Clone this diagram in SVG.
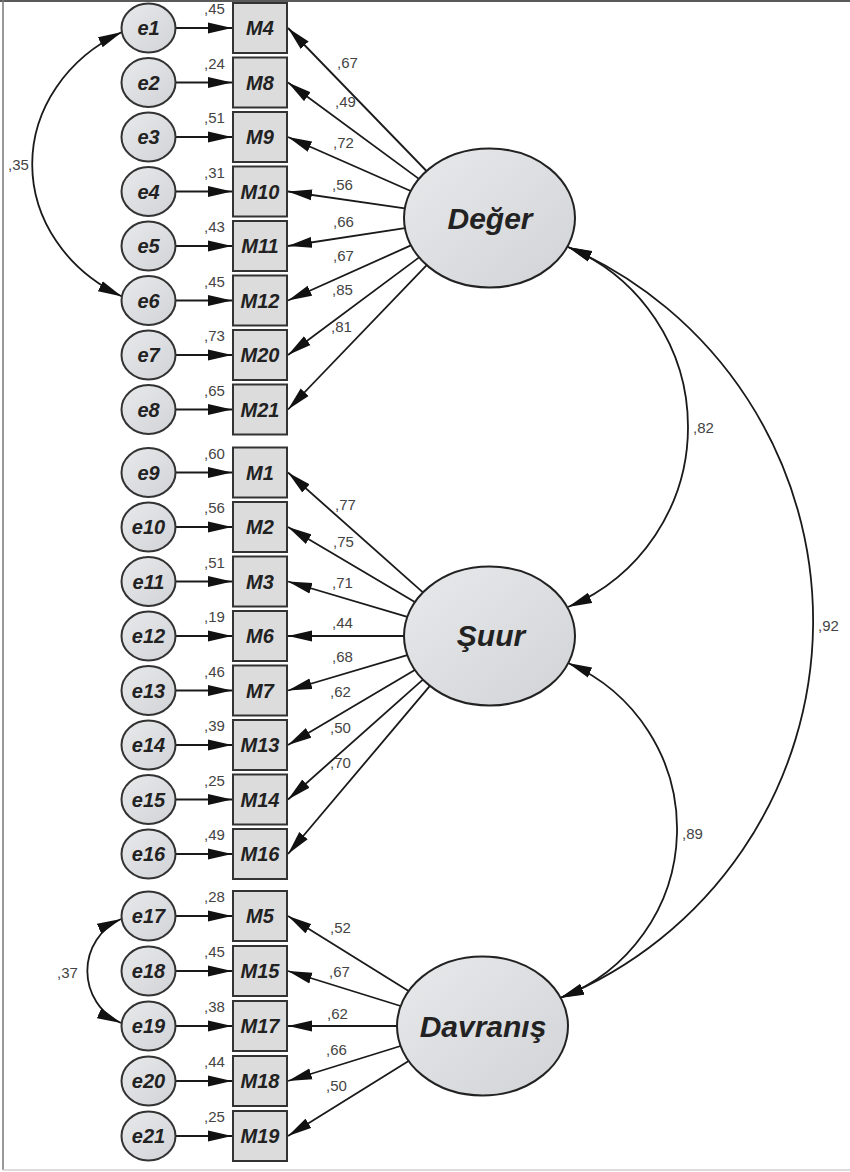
<svg xmlns="http://www.w3.org/2000/svg" width="850" height="1172" viewBox="0 0 850 1172">
<defs>
<linearGradient id="gf" x1="0" y1="0" x2="1" y2="1">
<stop offset="0" stop-color="#e8e9eb"/>
<stop offset="1" stop-color="#d2d3d6"/>
</linearGradient>
<marker id="ah" viewBox="0 0 24 12" refX="24" refY="6" markerWidth="24" markerHeight="12" markerUnits="userSpaceOnUse" orient="auto-start-reverse">
<path d="M0,0.5 L24,6 L0,11.5 z" fill="#111"/>
</marker>
<style>
.ln{stroke:#1a1a1a;stroke-width:1.8;fill:none}
.ar{marker-end:url(#ah)}
.cv{marker-start:url(#ah);marker-end:url(#ah)}
.err{fill:url(#gf);stroke:#333;stroke-width:2}
.box{fill:#dcdcdc;stroke:#333;stroke-width:2}
.lat{fill:url(#gf);stroke:#222;stroke-width:2}
.nt{font-family:"Liberation Sans",Arial,sans-serif;font-weight:bold;font-style:italic;font-size:20px;fill:#222;text-anchor:middle}
.lt{font-family:"Liberation Sans",Arial,sans-serif;font-weight:bold;font-style:italic;font-size:30px;fill:#222;text-anchor:middle}
.num{font-family:"Liberation Sans",Arial,sans-serif;font-size:15px;fill:#444}
</style>
</defs>
<rect x="0" y="0" width="850" height="1172" fill="#ffffff"/>
<line x1="0" y1="1" x2="850" y2="1" stroke="#5a5a5a" stroke-width="2"/>
<line x1="3" y1="0" x2="3" y2="1170" stroke="#777" stroke-width="1.5"/>
<line x1="3" y1="1170" x2="850" y2="1170" stroke="#d0d0d0" stroke-width="1.5"/>

<g id="connectors">
<!-- error to indicator -->
<g class="ln ar">
<line x1="175.5" y1="28" x2="232" y2="28"/>
<line x1="175.5" y1="82.5" x2="232" y2="82.5"/>
<line x1="175.5" y1="137" x2="232" y2="137"/>
<line x1="175.5" y1="191.5" x2="232" y2="191.5"/>
<line x1="175.5" y1="246" x2="232" y2="246"/>
<line x1="175.5" y1="300.5" x2="232" y2="300.5"/>
<line x1="175.5" y1="355" x2="232" y2="355"/>
<line x1="175.5" y1="409.5" x2="232" y2="409.5"/>
<line x1="175.5" y1="472.5" x2="232" y2="472.5"/>
<line x1="175.5" y1="527" x2="232" y2="527"/>
<line x1="175.5" y1="581.5" x2="232" y2="581.5"/>
<line x1="175.5" y1="636" x2="232" y2="636"/>
<line x1="175.5" y1="690.5" x2="232" y2="690.5"/>
<line x1="175.5" y1="745" x2="232" y2="745"/>
<line x1="175.5" y1="799.5" x2="232" y2="799.5"/>
<line x1="175.5" y1="854" x2="232" y2="854"/>
<line x1="175.5" y1="916" x2="232" y2="916"/>
<line x1="175.5" y1="971" x2="232" y2="971"/>
<line x1="175.5" y1="1026" x2="232" y2="1026"/>
<line x1="175.5" y1="1081" x2="232" y2="1081"/>
<line x1="175.5" y1="1136" x2="232" y2="1136"/>
</g>
<!-- Değer loadings -->
<g class="ln ar">
<line x1="426.5" y1="171" x2="288" y2="28"/>
<line x1="418.9" y1="178.9" x2="288" y2="82.5"/>
<line x1="410.7" y1="191" x2="288" y2="137"/>
<line x1="404.8" y1="208.3" x2="288" y2="191.5"/>
<line x1="404.9" y1="228.2" x2="288" y2="246"/>
<line x1="410.9" y1="245.4" x2="288" y2="300.5"/>
<line x1="419.1" y1="257.4" x2="288" y2="355"/>
<line x1="426.7" y1="265.2" x2="288" y2="409.5"/>
</g>
<!-- Şuur loadings -->
<g class="ln ar">
<line x1="422.9" y1="592.4" x2="288" y2="472.5"/>
<line x1="414.8" y1="602.1" x2="288" y2="527"/>
<line x1="407.3" y1="616.8" x2="288" y2="581.5"/>
<line x1="404" y1="636" x2="288" y2="636"/>
<line x1="407.3" y1="655.2" x2="288" y2="690.5"/>
<line x1="414.8" y1="669.9" x2="288" y2="745"/>
<line x1="422.9" y1="679.6" x2="288" y2="799.5"/>
<line x1="429.9" y1="685.9" x2="288" y2="854"/>
</g>
<!-- Davranış loadings -->
<g class="ln ar">
<line x1="408.6" y1="991" x2="288" y2="916"/>
<line x1="400.6" y1="1006" x2="288" y2="971"/>
<line x1="397" y1="1026" x2="288" y2="1026"/>
<line x1="400.6" y1="1046" x2="288" y2="1081"/>
<line x1="408.6" y1="1061" x2="288" y2="1136"/>
</g>
<!-- covariances -->
<g class="ln cv">
<path d="M122,32 A170,150 0 0 0 122,296.5"/>
<path d="M121,919 A57,57 0 0 0 121,1023"/>
<path d="M568,247 A195,195 0 0 1 568,607"/>
<path d="M568,663 A180.7,180.7 0 0 1 560,998"/>
<path d="M568,247 A407.6,407.6 0 0 1 560,998"/>
</g>
</g>

<g id="labels">
<text class="num" x="8" y="170">,35</text>
<text class="num" x="57" y="978">,37</text>
<text class="num" x="693" y="433">,82</text>
<text class="num" x="682" y="839">,89</text>
<text class="num" x="818" y="631">,92</text>
<text class="num" x="337" y="68">,67</text>
<text class="num" x="335" y="107">,49</text>
<text class="num" x="333" y="148">,72</text>
<text class="num" x="332" y="190">,56</text>
<text class="num" x="333" y="227">,66</text>
<text class="num" x="333" y="261">,67</text>
<text class="num" x="332" y="295">,85</text>
<text class="num" x="331" y="332">,81</text>
<text class="num" x="335" y="510">,77</text>
<text class="num" x="333" y="547">,75</text>
<text class="num" x="332" y="588">,71</text>
<text class="num" x="332" y="628">,44</text>
<text class="num" x="332" y="662">,68</text>
<text class="num" x="330" y="697">,62</text>
<text class="num" x="330" y="733">,50</text>
<text class="num" x="330" y="768">,70</text>
<text class="num" x="330" y="933">,52</text>
<text class="num" x="329" y="977">,67</text>
<text class="num" x="327" y="1019">,62</text>
<text class="num" x="326" y="1055">,66</text>
<text class="num" x="326" y="1091">,50</text>
</g>

<g id="e1"><ellipse class="err" cx="148.5" cy="28" rx="27" ry="24.5"/><text class="nt" x="148.5" y="35">e1</text></g>
<g id="e2"><ellipse class="err" cx="148.5" cy="82.5" rx="27" ry="24.5"/><text class="nt" x="148.5" y="89.5">e2</text></g>
<g id="e3"><ellipse class="err" cx="148.5" cy="137" rx="27" ry="24.5"/><text class="nt" x="148.5" y="144">e3</text></g>
<g id="e4"><ellipse class="err" cx="148.5" cy="191.5" rx="27" ry="24.5"/><text class="nt" x="148.5" y="198.5">e4</text></g>
<g id="e5"><ellipse class="err" cx="148.5" cy="246" rx="27" ry="24.5"/><text class="nt" x="148.5" y="253">e5</text></g>
<g id="e6"><ellipse class="err" cx="148.5" cy="300.5" rx="27" ry="24.5"/><text class="nt" x="148.5" y="307.5">e6</text></g>
<g id="e7"><ellipse class="err" cx="148.5" cy="355" rx="27" ry="24.5"/><text class="nt" x="148.5" y="362">e7</text></g>
<g id="e8"><ellipse class="err" cx="148.5" cy="409.5" rx="27" ry="24.5"/><text class="nt" x="148.5" y="416.5">e8</text></g>
<g id="e9"><ellipse class="err" cx="148.5" cy="472.5" rx="27" ry="24.5"/><text class="nt" x="148.5" y="479.5">e9</text></g>
<g id="e10"><ellipse class="err" cx="148.5" cy="527" rx="27" ry="24.5"/><text class="nt" x="148.5" y="534">e10</text></g>
<g id="e11"><ellipse class="err" cx="148.5" cy="581.5" rx="27" ry="24.5"/><text class="nt" x="148.5" y="588.5">e11</text></g>
<g id="e12"><ellipse class="err" cx="148.5" cy="636" rx="27" ry="24.5"/><text class="nt" x="148.5" y="643">e12</text></g>
<g id="e13"><ellipse class="err" cx="148.5" cy="690.5" rx="27" ry="24.5"/><text class="nt" x="148.5" y="697.5">e13</text></g>
<g id="e14"><ellipse class="err" cx="148.5" cy="745" rx="27" ry="24.5"/><text class="nt" x="148.5" y="752">e14</text></g>
<g id="e15"><ellipse class="err" cx="148.5" cy="799.5" rx="27" ry="24.5"/><text class="nt" x="148.5" y="806.5">e15</text></g>
<g id="e16"><ellipse class="err" cx="148.5" cy="854" rx="27" ry="24.5"/><text class="nt" x="148.5" y="861">e16</text></g>
<g id="e17"><ellipse class="err" cx="148.5" cy="916" rx="27" ry="24.5"/><text class="nt" x="148.5" y="923">e17</text></g>
<g id="e18"><ellipse class="err" cx="148.5" cy="971" rx="27" ry="24.5"/><text class="nt" x="148.5" y="978">e18</text></g>
<g id="e19"><ellipse class="err" cx="148.5" cy="1026" rx="27" ry="24.5"/><text class="nt" x="148.5" y="1033">e19</text></g>
<g id="e20"><ellipse class="err" cx="148.5" cy="1081" rx="27" ry="24.5"/><text class="nt" x="148.5" y="1088">e20</text></g>
<g id="e21"><ellipse class="err" cx="148.5" cy="1136" rx="27" ry="24.5"/><text class="nt" x="148.5" y="1143">e21</text></g>

<g id="M4"><rect class="box" x="233" y="3" width="54" height="50"/><text class="nt" x="260" y="35">M4</text><text class="num" x="204" y="14">,45</text></g>
<g id="M8"><rect class="box" x="233" y="57.5" width="54" height="50"/><text class="nt" x="260" y="89.5">M8</text><text class="num" x="204" y="68.5">,24</text></g>
<g id="M9"><rect class="box" x="233" y="112" width="54" height="50"/><text class="nt" x="260" y="144">M9</text><text class="num" x="204" y="123">,51</text></g>
<g id="M10"><rect class="box" x="233" y="166.5" width="54" height="50"/><text class="nt" x="260" y="198.5">M10</text><text class="num" x="204" y="177.5">,31</text></g>
<g id="M11"><rect class="box" x="233" y="221" width="54" height="50"/><text class="nt" x="260" y="253">M11</text><text class="num" x="204" y="232">,43</text></g>
<g id="M12"><rect class="box" x="233" y="275.5" width="54" height="50"/><text class="nt" x="260" y="307.5">M12</text><text class="num" x="204" y="286.5">,45</text></g>
<g id="M20"><rect class="box" x="233" y="330" width="54" height="50"/><text class="nt" x="260" y="362">M20</text><text class="num" x="204" y="341">,73</text></g>
<g id="M21"><rect class="box" x="233" y="384.5" width="54" height="50"/><text class="nt" x="260" y="416.5">M21</text><text class="num" x="204" y="395.5">,65</text></g>
<g id="M1"><rect class="box" x="233" y="447.5" width="54" height="50"/><text class="nt" x="260" y="479.5">M1</text><text class="num" x="204" y="458.5">,60</text></g>
<g id="M2"><rect class="box" x="233" y="502" width="54" height="50"/><text class="nt" x="260" y="534">M2</text><text class="num" x="204" y="513">,56</text></g>
<g id="M3"><rect class="box" x="233" y="556.5" width="54" height="50"/><text class="nt" x="260" y="588.5">M3</text><text class="num" x="204" y="567.5">,51</text></g>
<g id="M6"><rect class="box" x="233" y="611" width="54" height="50"/><text class="nt" x="260" y="643">M6</text><text class="num" x="204" y="622">,19</text></g>
<g id="M7"><rect class="box" x="233" y="665.5" width="54" height="50"/><text class="nt" x="260" y="697.5">M7</text><text class="num" x="204" y="676.5">,46</text></g>
<g id="M13"><rect class="box" x="233" y="720" width="54" height="50"/><text class="nt" x="260" y="752">M13</text><text class="num" x="204" y="731">,39</text></g>
<g id="M14"><rect class="box" x="233" y="774.5" width="54" height="50"/><text class="nt" x="260" y="806.5">M14</text><text class="num" x="204" y="785.5">,25</text></g>
<g id="M16"><rect class="box" x="233" y="829" width="54" height="50"/><text class="nt" x="260" y="861">M16</text><text class="num" x="204" y="840">,49</text></g>
<g id="M5"><rect class="box" x="233" y="891" width="54" height="50"/><text class="nt" x="260" y="923">M5</text><text class="num" x="204" y="902">,28</text></g>
<g id="M15"><rect class="box" x="233" y="946" width="54" height="50"/><text class="nt" x="260" y="978">M15</text><text class="num" x="204" y="957">,45</text></g>
<g id="M17"><rect class="box" x="233" y="1001" width="54" height="50"/><text class="nt" x="260" y="1033">M17</text><text class="num" x="204" y="1012">,38</text></g>
<g id="M18"><rect class="box" x="233" y="1056" width="54" height="50"/><text class="nt" x="260" y="1088">M18</text><text class="num" x="204" y="1067">,44</text></g>
<g id="M19"><rect class="box" x="233" y="1111" width="54" height="50"/><text class="nt" x="260" y="1143">M19</text><text class="num" x="204" y="1122">,25</text></g>

<g id="Deger"><ellipse class="lat" cx="489.5" cy="218" rx="85.5" ry="69.5"/><text class="lt" x="490" y="229">Değer</text></g>
<g id="Suur"><ellipse class="lat" cx="489.5" cy="636" rx="85.5" ry="69.5"/><text class="lt" x="491" y="646">Şuur</text></g>
<g id="Davranis"><ellipse class="lat" cx="482.5" cy="1026" rx="85.5" ry="69.5"/><text class="lt" x="483" y="1037">Davranış</text></g>
</svg>
